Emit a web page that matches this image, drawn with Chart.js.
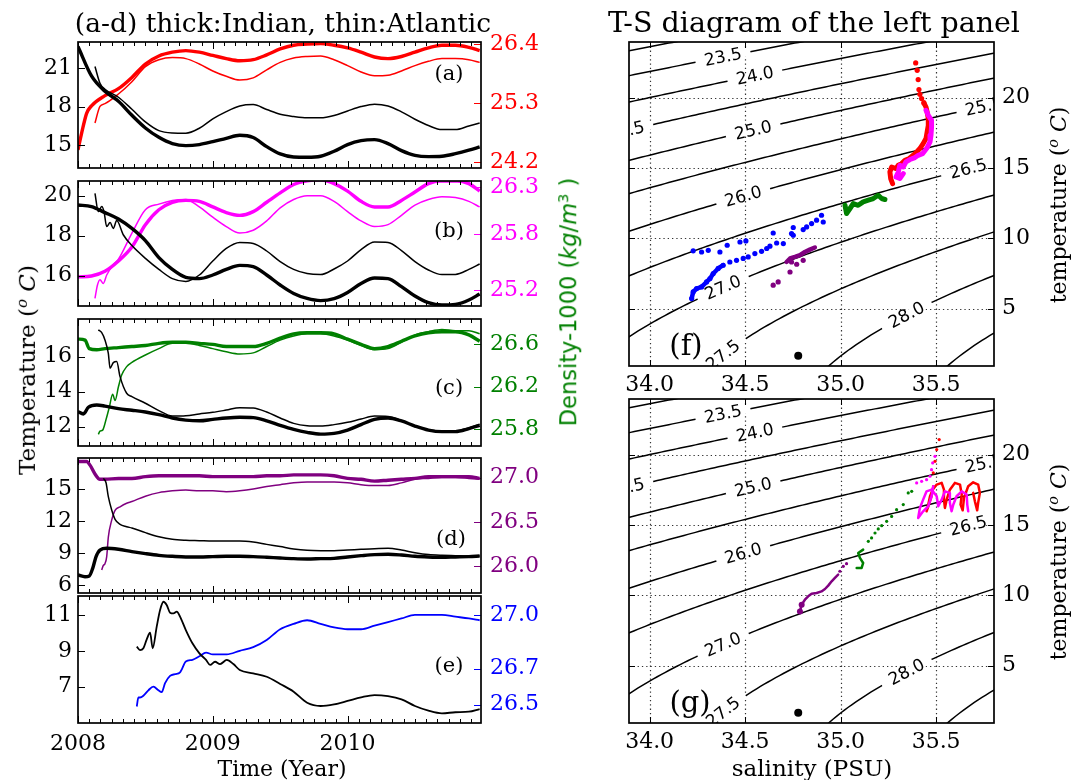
<!DOCTYPE html>
<html><head><meta charset="utf-8">
<script src="https://cdn.jsdelivr.net/npm/chart.js@4.4.1/dist/chart.umd.min.js"></script>
<style>
body{margin:0;background:#fff;}
#page{position:relative;width:1074px;height:780px;overflow:hidden;background:#fff;font-family:'DejaVu Serif',serif;color:#000;}
canvas{position:absolute;}
.t{position:absolute;white-space:nowrap;transform:translate(-50%,-50%);line-height:1;}
.r{transform:translate(-50%,-50%) rotate(-90deg);}
.sup{font-size:0.65em;vertical-align:0.55em;font-style:italic;}
</style></head><body><div id="page">
<canvas id="ca" width="560" height="190" style="left:0;top:10px"></canvas>
<canvas id="cb" width="560" height="189" style="left:0;top:149px"></canvas>
<canvas id="cc" width="560" height="191" style="left:0;top:287px"></canvas>
<canvas id="cd" width="560" height="199" style="left:0;top:426px"></canvas>
<canvas id="ce" width="560" height="209" style="left:0;top:564px"></canvas>
<canvas id="cf" width="474" height="396" style="left:600px;top:10px"></canvas>
<canvas id="cg" width="474" height="396" style="left:600px;top:367px"></canvas>

<div class="t" style="left:283px;top:23px;font-size:26.5px">(a-d) thick:Indian, thin:Atlantic</div>
<div class="t" style="left:814px;top:23px;font-size:28.5px">T-S diagram of the left panel</div>
<div class="t r" style="left:27px;top:370px;font-size:23px">Temperature (<span class="sup">o</span> <i>C</i>)</div>
<div class="t r" style="left:568px;top:302px;font-size:22.5px;color:#008000;font-family:'DejaVu Sans',sans-serif">Density-1000 (<i>kg</i>/<i>m</i><span class="sup" style="font-style:normal">3</span> )</div>
<div class="t" style="left:282px;top:769px;font-size:22px">Time (Year)</div>
<div class="t" style="left:812px;top:768px;font-size:23px">salinity (PSU)</div>
<div class="t r" style="left:1058px;top:205px;font-size:22px">temperature (<span class="sup">o</span> <i>C</i>)</div>
<div class="t r" style="left:1058px;top:562px;font-size:22px">temperature (<span class="sup">o</span> <i>C</i>)</div>
<div class="t" style="left:449px;top:73px;font-size:21px">(a)</div>
<div class="t" style="left:449px;top:230px;font-size:21px">(b)</div>
<div class="t" style="left:449px;top:387px;font-size:21px">(c)</div>
<div class="t" style="left:451px;top:538px;font-size:21px">(d)</div>
<div class="t" style="left:449px;top:665px;font-size:21px">(e)</div>
<div class="t" style="left:686px;top:345px;font-size:29px">(f)</div>
<div class="t" style="left:690px;top:702px;font-size:29px">(g)</div>
</div>
<script>
// ---------------- DATA ----------------
const yearTicks = [2008, 2009, 2010];
const yearsGrid = [2008.0,2008.1,2008.2,2008.3,2008.4,2008.5,2008.6,2008.7,2008.8,2008.9,2009.0,2009.1,2009.2,2009.3,2009.4,2009.5,2009.6,2009.7,2009.8,2009.9,2010.0,2010.1,2010.2,2010.3,2010.4,2010.5,2010.6,2010.7,2010.8,2010.9,2010.98];

// (a)
const aTempTicks = [15, 18, 21];
const aDensTicks = [24.2, 25.3, 26.4];
const aTempThick = [22.70,20.40,19.20,18.42,17.32,16.33,15.60,15.11,14.95,15.03,15.26,15.52,15.76,15.58,14.87,14.30,14.06,14.04,14.12,14.51,15.03,15.34,15.42,15.11,14.56,14.19,14.09,14.12,14.32,14.59,14.85];
const aYearsThin = [2008.126,2008.163,...yearsGrid.slice(2)];
const aTempThin = [21.13,19.83,19.36,18.73,17.79,16.80,16.12,15.94,15.92,16.31,17.04,17.61,18.05,18.16,17.77,17.40,17.22,17.12,17.12,17.30,17.66,18.00,18.19,18.05,17.59,17.01,16.52,16.20,16.20,16.49,16.72];
const aYearsDensThick = [2008.0,2008.027,2008.064,...yearsGrid.slice(1)];
const aDensThick = [24.43,24.74,25.11,25.25,25.44,25.57,25.78,26.03,26.18,26.25,26.28,26.25,26.19,26.13,26.09,26.11,26.20,26.31,26.38,26.40,26.41,26.38,26.33,26.25,26.16,26.13,26.17,26.25,26.33,26.38,26.38,26.34,26.28];
const aDensThin = [24.93,25.24,25.29,25.47,25.70,25.98,26.11,26.15,26.13,26.03,25.90,25.80,25.73,25.77,25.92,26.06,26.14,26.17,26.18,26.11,26.00,25.88,25.81,25.82,25.90,26.00,26.08,26.13,26.13,26.11,26.06];

// (b)
const bTempTicks = [16, 18, 20];
const bDensTicks = [25.2, 25.8, 26.3];
const bTempThick = [19.53,19.45,19.15,18.83,18.36,17.75,16.90,16.31,15.91,15.85,16.03,16.31,16.51,16.45,16.03,15.53,15.11,14.86,14.75,14.85,15.16,15.61,15.88,15.85,15.45,14.98,14.65,14.53,14.56,14.78,15.08];
const bYearsTempThin = [2008.126,2008.151,2008.176,2008.193,2008.213,2008.238,2008.262,2008.287,2008.337,...yearsGrid.slice(4)];
const bTempThin = [20.11,19.20,19.45,19.20,18.45,18.65,18.36,18.75,18.03,17.50,16.86,16.31,15.85,15.71,16.03,16.73,17.36,17.66,17.61,17.23,16.70,16.31,16.10,16.05,16.33,16.73,17.30,17.68,17.66,17.25,16.70,16.28,16.05,16.06,16.31,16.58];
const bDensThick = [25.34,25.35,25.40,25.51,25.66,25.90,26.06,26.14,26.16,26.15,26.09,26.03,26.00,26.04,26.14,26.24,26.33,26.37,26.38,26.34,26.26,26.15,26.09,26.09,26.16,26.25,26.34,26.37,26.37,26.34,26.26];
const bYearsDensThin = [2008.126,2008.144,2008.163,2008.188,2008.213,2008.262,...yearsGrid.slice(3)];
const bDensThin = [25.11,25.25,25.31,25.27,25.36,25.47,25.53,25.81,26.06,26.12,26.16,26.17,26.09,25.98,25.88,25.81,25.84,25.94,26.08,26.17,26.21,26.21,26.15,26.04,25.94,25.88,25.90,26.00,26.11,26.17,26.20,26.19,26.15,26.09];

// (c)
const cTempTicks = [12, 14, 16];
const cDensTicks = [25.8, 26.2, 26.6];
const cYearsTempThick = [2008.0,2008.04,2008.077,2008.139,...yearsGrid.slice(2)];
const cTempThick = [12.86,12.73,13.11,13.24,13.18,13.03,12.94,12.84,12.69,12.50,12.38,12.34,12.42,12.50,12.54,12.52,12.34,12.08,11.85,11.68,11.58,11.62,11.81,12.12,12.42,12.50,12.33,12.04,11.81,11.72,11.72,11.89,12.08];
const cYearsTempThin = [2008.151,2008.176,2008.2,2008.225,2008.238,2008.262,2008.287,2008.312,2008.361,...yearsGrid.slice(4)];
const cTempThin = [17.53,17.37,16.95,16.19,15.34,15.66,15.72,14.86,13.91,13.72,13.34,12.92,12.61,12.63,12.73,12.82,12.95,13.09,13.07,12.84,12.50,12.19,12.06,12.04,12.12,12.25,12.44,12.61,12.59,12.34,12.04,11.83,11.75,11.77,11.93,12.14];
const cYearsDensThick = [2008.0,2008.052,2008.084,2008.139,...yearsGrid.slice(2)];
const cDensThick = [26.65,26.64,26.56,26.55,26.56,26.57,26.58,26.59,26.61,26.62,26.62,26.61,26.60,26.58,26.58,26.58,26.61,26.66,26.70,26.71,26.71,26.70,26.65,26.60,26.56,26.58,26.63,26.68,26.71,26.72,26.72,26.69,26.63];
const cYearsDensThin = [2008.151,2008.163,2008.183,2008.208,2008.233,2008.257,2008.275,2008.3,2008.324,2008.361,...yearsGrid.slice(4)];
const cDensThin = [25.75,25.78,25.79,25.89,26.01,26.13,26.07,26.20,26.31,26.39,26.43,26.50,26.56,26.61,26.61,26.59,26.56,26.53,26.51,26.52,26.58,26.64,26.68,26.70,26.70,26.68,26.64,26.59,26.55,26.56,26.62,26.69,26.72,26.74,26.73,26.73,26.70];

// (d)
const dTempTicks = [6, 9, 12, 15];
const dDensTicks = [26.0, 26.5, 27.0];
const dYearsTempThick = [2008.0,2008.052,2008.084,2008.109,2008.134,2008.163,2008.213,...yearsGrid.slice(3)];
const dTempThick = [6.94,6.78,6.85,7.56,8.66,9.28,9.44,9.35,9.13,8.94,8.78,8.69,8.63,8.63,8.66,8.69,8.69,8.66,8.60,8.53,8.47,8.44,8.47,8.50,8.63,8.75,8.85,8.88,8.81,8.69,8.63,8.60,8.63,8.66,8.72];
const dYearsTempThin = [2008.188,2008.208,2008.225,2008.25,2008.275,2008.312,2008.361,...yearsGrid.slice(4)];
const dTempThin = [16.0,15.59,14.28,13.03,12.16,11.69,11.47,11.34,10.91,10.53,10.28,10.19,10.16,10.13,10.13,10.13,10.03,9.81,9.60,9.38,9.25,9.22,9.22,9.28,9.35,9.41,9.44,9.28,9.03,8.85,8.78,8.75,8.72,8.72];
const dYearsDensThick = [2008.0,2008.064,2008.089,2008.126,2008.163,2008.2,...yearsGrid.slice(3)];
const dDensThick = [27.18,27.18,27.14,27.04,26.98,26.98,26.99,26.99,27.01,27.02,27.02,27.02,27.02,27.01,27.01,27.01,27.01,27.02,27.02,27.03,27.03,27.03,27.02,26.99,26.98,26.96,26.97,26.98,26.99,27.01,27.01,27.01,27.01,26.99];
const dYearsDensThin = [2008.176,2008.188,2008.2,2008.213,2008.225,2008.25,2008.275,2008.312,2008.361,...yearsGrid.slice(4)];
const dDensThin = [25.96,26.01,26.03,26.11,26.33,26.52,26.63,26.67,26.71,26.73,26.79,26.83,26.85,26.86,26.85,26.85,26.84,26.85,26.87,26.90,26.92,26.94,26.95,26.95,26.95,26.94,26.92,26.91,26.91,26.94,26.98,26.99,27.00,27.00,26.99,26.98];

// (e)
const eTempTicks = [7, 9, 11];
const eDensTicks = [26.5, 26.7, 27.0];
const eYearsTemp = [2008.436,2008.46,2008.485,2008.51,2008.535,2008.554,2008.584,2008.609,2008.634,2008.658,2008.683,2008.708,2008.733,2008.757,2008.8,2008.849,2008.901,2008.95,2008.98,2009.017,2009.054,2009.104,2009.153,...yearsGrid.slice(12)];
const eTemp = [9.23,9.04,9.14,9.64,10.01,9.14,10.35,11.28,11.74,11.56,11.13,11.09,11.19,10.91,10.16,9.42,8.86,8.49,8.21,8.39,8.26,8.49,8.26,7.93,7.74,7.55,7.15,6.72,6.10,5.92,6.01,6.20,6.40,6.53,6.47,6.29,5.92,5.66,5.51,5.57,5.60,5.75];
const eYearsDens = [2008.436,2008.448,2008.46,2008.485,2008.522,2008.559,2008.597,2008.621,2008.646,2008.683,2008.72,2008.757,2008.8,2008.849,2008.901,2008.95,2009.0,2009.054,2009.104,...yearsGrid.slice(12)];
const eDens = [26.49,26.54,26.54,26.55,26.58,26.60,26.58,26.57,26.62,26.66,26.67,26.68,26.74,26.75,26.77,26.79,26.78,26.78,26.78,26.80,26.82,26.86,26.92,26.95,26.97,26.95,26.93,26.92,26.92,26.94,26.96,26.98,27.00,27.00,27.00,26.99,26.98,26.97];

// T-S diagram ticks and contour levels
const salTicks = [34.0, 34.5, 35.0, 35.5];
const tsTempTicks = [5, 10, 15, 20];
const sigmaLevels = [23.0,23.5,24.0,24.5,25.0,25.5,26.0,26.5,27.0,27.5,28.0,28.5];
const sigmaLabels = [23.5,24.0,24.5,25.0,25.5,26.0,26.5,27.0,27.5,28.0];

// (f) Indian (thick) T-S points
const fRedS = [35.393,35.401,35.406,35.410,35.415,35.424,35.436,35.447,35.453,35.459,35.459,35.453,35.447,35.432,35.415,35.398,35.380,35.359,35.337,35.319,35.302,35.290,35.267,35.258,35.262,35.272];
const fRedT = [22.46,21.94,21.28,20.57,20.23,19.93,19.62,19.33,18.98,18.51,18.03,17.56,17.09,16.73,16.38,16.14,15.90,15.67,15.55,15.31,15.19,14.96,15.07,14.72,14.25,13.89];
const fMagS = [35.447,35.459,35.476,35.476,35.473,35.468,35.450,35.429,35.406,35.389,35.363,35.342,35.328,35.310,35.302,35.290,35.310,35.328];
const fMagT = [19.10,18.74,18.39,17.91,17.32,16.85,16.38,16.02,15.90,15.74,15.60,15.43,15.07,15.19,14.72,14.36,14.25,14.60];
const fGreenS = [35.023,35.031,35.049,35.066,35.092,35.118,35.145,35.171,35.197,35.215,35.232];
const fGreenT = [12.35,11.76,12.12,12.47,12.35,12.59,12.71,12.83,13.06,12.83,12.76];
const fBlueS = [34.220,34.228,34.246,34.272,34.298,34.316,34.333,34.359,34.385,34.420,34.455,34.490,34.516,34.551,34.586,34.613,34.630,34.665,34.700,34.743,34.752,34.804,34.822,34.848,34.874,34.900,34.909];
const fBlueT = [5.72,6.19,6.43,6.55,6.90,7.14,7.50,7.86,8.09,8.32,8.44,8.57,8.68,8.92,9.08,9.28,9.44,9.67,9.63,10.34,10.77,10.62,10.81,11.05,11.29,11.64,11.16];
const fBlueUpperS = [34.228,34.272,34.307,34.368,34.406,34.473,34.504,34.647,34.752];
const fBlueUpperT = [9.11,9.03,9.15,9.03,9.51,9.74,9.82,10.38,10.22];
const fPurpleLineS = [34.717,34.735,34.761,34.787,34.813,34.839,34.865];
const fPurpleLineT = [8.32,8.57,8.68,8.80,9.03,9.20,9.35];
const fPurpleDotS = [34.647,34.673,34.735,34.743,34.770,34.804];
const fPurpleDotT = [6.67,6.90,7.61,8.32,8.16,8.44];

// (g) Atlantic (thin) T-S points
const gRedDotS = [35.516,35.503,35.494,35.485];
const gRedDotT = [21.07,20.36,19.52,18.70];
const gRedLineS = [35.485,35.476,35.459,35.450,35.459,35.468,35.482,35.503,35.529,35.541,35.541,35.546,35.555,35.572,35.598,35.625,35.634,35.628,35.639,35.646,35.668,35.694,35.720,35.729,35.720,35.715,35.703,35.694];
const gRedLineT = [17.75,17.04,16.33,15.97,16.45,17.04,17.51,17.87,17.99,17.51,16.80,16.21,16.80,17.51,17.99,17.87,17.16,16.45,16.04,16.92,17.75,18.03,17.87,17.28,16.57,16.04,16.68,17.28];
const gMagDotS = [35.494,35.482,35.476,35.468,35.450,35.424,35.398];
const gMagDotT = [19.88,19.41,18.93,18.46,18.22,18.10,17.99];
const gMagLineS = [35.485,35.476,35.459,35.432,35.406,35.415,35.432,35.450,35.476,35.503,35.511,35.529,35.546,35.572,35.572,35.581,35.590,35.607,35.634,35.660,35.663,35.668];
const gMagLineT = [17.75,17.04,16.33,15.97,15.50,16.21,16.80,17.39,17.51,17.04,16.33,16.80,17.39,17.28,16.57,15.97,16.45,17.04,17.39,17.16,16.45,15.97];
const gGreenLineS = [35.084,35.110,35.118,35.101,35.092,35.118];
const gGreenLineT = [11.95,11.95,12.30,12.66,13.01,13.25];
const gGreenDotS = [35.145,35.162,35.180,35.197,35.215,35.241,35.267,35.293,35.328,35.354,35.372];
const gGreenDotT = [13.84,14.08,14.43,14.72,14.95,15.26,15.61,16.09,16.45,17.28,17.39];
const gPurpleLineS = [34.787,34.796,34.813,34.830,34.848,34.874,34.900,34.918,34.935,34.953,34.970,34.987];
const gPurpleLineT = [8.86,9.34,9.69,9.93,10.12,10.17,10.28,10.45,10.69,11.00,11.24,11.47];
const gPurpleDotS = [34.996,35.014,35.031];
const gPurpleDotT = [11.71,12.06,12.25];
const deepS = [34.778];
const deepT = [1.65];

// ---------------- LAYOUT / STYLE ----------------
const SERIF = "'DejaVu Serif', serif";
const TICK_PX = 22;
const RED='#ff0000', MAG='#ff00ff', GRN='#008000', PUR='#800080', BLU='#0000ff', BLK='#000000';
const X_MIN = 2008.0, X_MAX = 2010.99;
const TS_X = [33.892, 35.803], TS_Y = [0.93, 23.95];
const PAD_TOP = 32;
const labelSalPos = [34.384, 34.551, 33.876, 34.542, 35.75, 34.49, 35.668, 34.384, 34.384, 35.345];

function pts(xs, ys){ return xs.map((x,i)=>({x:x, y:ys[i]})); }

function leftFrame(p){
  return {
    id:'leftFrame',
    afterDraw(chart){
      const {ctx, chartArea:a, scales} = chart;
      ctx.save();
      ctx.lineWidth = 1;
      ctx.strokeStyle = '#000';
      ctx.beginPath();
      for (let m=0; m<=36; m++){
        const t = 2008 + m/12;
        if (t > X_MAX + 1e-6) break;
        const px = Math.round(scales.x.getPixelForValue(t)) + 0.5;
        const L = (m % 12 === 0) ? 7 : 4;
        ctx.moveTo(px, a.bottom); ctx.lineTo(px, a.bottom - L);
        ctx.moveTo(px, a.top); ctx.lineTo(px, a.top + L);
      }
      p.tTicks.forEach(v=>{ const py = Math.round(scales.yT.getPixelForValue(v))+0.5; ctx.moveTo(a.left, py); ctx.lineTo(a.left+7, py); });
      ctx.stroke();
      ctx.strokeStyle = p.dColor;
      ctx.beginPath();
      p.dTicks.forEach(v=>{ const py = Math.round(scales.yD.getPixelForValue(v))+0.5; ctx.moveTo(a.right, py); ctx.lineTo(a.right-7, py); });
      ctx.stroke();
      ctx.strokeStyle = '#000';
      ctx.lineWidth = 1.7;
      ctx.strokeRect(a.left, a.top, a.right-a.left, a.bottom-a.top);
      ctx.restore();
    }
  };
}

function makeLeft(id, p){
  const datasets = p.series.map(s=>({
    data: pts(s.t, s.v), yAxisID: s.axis, borderColor: s.color, borderWidth: s.w,
    pointRadius: 0, fill: false, cubicInterpolationMode: 'monotone', borderJoinStyle:'round'
  }));
  new Chart(document.getElementById(id), {
    type: 'line',
    data: { datasets },
    options: {
      responsive: false, animation: false, devicePixelRatio: 1, events: [],
      layout: { padding: { top: PAD_TOP, left: 0, right: 0, bottom: 0 }, autoPadding: false },
      plugins: { legend: { display: false }, tooltip: { enabled: false } },
      scales: {
        x: {
          type: 'linear', min: X_MIN, max: X_MAX,
          afterBuildTicks: s => { s.ticks = yearTicks.map(v=>({value:v})); },
          ticks: { display: p.showX, font: { family: SERIF, size: TICK_PX }, color: '#000', padding: 8, maxRotation: 0, autoSkip: false, callback: v => String(v) },
          grid: { display: false, drawTicks: false }, border: { display: false },
          afterFit: s => { s.height = p.showX ? 50 : 32; }
        },
        yT: {
          position: 'left', min: p.tRange[0], max: p.tRange[1],
          afterBuildTicks: s => { s.ticks = p.tTicks.map(v=>({value:v})); },
          ticks: { font: { family: SERIF, size: TICK_PX }, color: '#000', padding: 6, autoSkip: false, callback: v => String(v) },
          grid: { display: false, drawTicks: false }, border: { display: false },
          afterFit: s => { s.width = 78; }
        },
        yD: {
          position: 'right', min: p.dRange[0], max: p.dRange[1],
          afterBuildTicks: s => { s.ticks = p.dTicks.map(v=>({value:v})); },
          ticks: { font: { family: SERIF, size: TICK_PX }, color: p.dColor, padding: 9, autoSkip: false, callback: v => Number(v).toFixed(1) },
          grid: { display: false, drawTicks: false }, border: { display: false },
          afterFit: s => { s.width = 79; }
        }
      }
    },
    plugins: [leftFrame(p)]
  });
}

makeLeft('ca', { tRange:[13.2, 23.05], dRange:[24.09, 26.44], tTicks:aTempTicks, dTicks:aDensTicks, dColor:RED, showX:false,
  series:[
    {t:yearsGrid, v:aTempThick, axis:'yT', color:BLK, w:3.4},
    {t:aYearsThin, v:aTempThin, axis:'yT', color:BLK, w:1.5},
    {t:aYearsDensThick, v:aDensThick, axis:'yD', color:RED, w:3.4},
    {t:aYearsThin, v:aDensThin, axis:'yD', color:RED, w:1.5}
  ]});
makeLeft('cb', { tRange:[14.48, 20.73], dRange:[25.028, 26.368], tTicks:bTempTicks, dTicks:bDensTicks, dColor:MAG, showX:false,
  series:[
    {t:yearsGrid, v:bTempThick, axis:'yT', color:BLK, w:3.4},
    {t:bYearsTempThin, v:bTempThin, axis:'yT', color:BLK, w:1.5},
    {t:yearsGrid, v:bDensThick, axis:'yD', color:MAG, w:3.4},
    {t:bYearsDensThin, v:bDensThin, axis:'yD', color:MAG, w:1.5}
  ]});
makeLeft('cc', { tRange:[10.9, 18.15], dRange:[25.64, 26.84], tTicks:cTempTicks, dTicks:cDensTicks, dColor:GRN, showX:false,
  series:[
    {t:cYearsTempThick, v:cTempThick, axis:'yT', color:BLK, w:3.4},
    {t:cYearsTempThin, v:cTempThin, axis:'yT', color:BLK, w:1.5},
    {t:cYearsDensThick, v:cDensThick, axis:'yD', color:GRN, w:3.4},
    {t:cYearsDensThin, v:cDensThin, axis:'yD', color:GRN, w:1.5}
  ]});
makeLeft('cd', { tRange:[5.25, 17.91], dRange:[25.70, 27.22], tTicks:dTempTicks, dTicks:dDensTicks, dColor:PUR, showX:false,
  series:[
    {t:dYearsTempThick, v:dTempThick, axis:'yT', color:BLK, w:3.4},
    {t:dYearsTempThin, v:dTempThin, axis:'yT', color:BLK, w:1.5},
    {t:dYearsDensThick, v:dDensThick, axis:'yD', color:PUR, w:3.4},
    {t:dYearsDensThin, v:dDensThin, axis:'yD', color:PUR, w:1.5}
  ]});
makeLeft('ce', { tRange:[4.97, 12.06], dRange:[26.398, 27.105], tTicks:eTempTicks, dTicks:eDensTicks, dColor:BLU, showX:true,
  series:[
    {t:eYearsTemp, v:eTemp, axis:'yT', color:BLK, w:1.8},
    {t:eYearsDens, v:eDens, axis:'yD', color:BLU, w:1.8}
  ]});

// ---------- T-S diagrams ----------
// UNESCO 1981 equation of state at surface pressure -> sigma-t
function sigmaT(S, T){
  const T2=T*T, T3=T2*T, T4=T3*T, T5=T4*T;
  const rw = 999.842594 + 6.793952e-2*T - 9.095290e-3*T2 + 1.001685e-4*T3 - 1.120083e-6*T4 + 6.536332e-9*T5;
  const A = 8.24493e-1 - 4.0899e-3*T + 7.6438e-5*T2 - 8.2467e-7*T3 + 5.3875e-9*T4;
  const B = -5.72466e-3 + 1.0227e-4*T - 1.6546e-6*T2;
  const C = 4.8314e-4;
  return rw + A*S + B*Math.pow(S,1.5) + C*S*S - 1000;
}
function tempAt(S, sig){
  let lo=-2, hi=40;
  for (let k=0;k<60;k++){ const m=(lo+hi)/2; if (sigmaT(S,m) > sig) lo=m; else hi=m; }
  return (lo+hi)/2;
}
function contourSets(){
  return sigmaLevels.map(lev=>{
    const d=[];
    for (let S=33.80; S<=35.92; S+=0.02) d.push({x:S, y:tempAt(S,lev)});
    return { data:d, showLine:true, borderColor:'#000', borderWidth:1.5, pointRadius:0, order:10, tension:0 };
  });
}
function tsLine(S,T,color,w,order){ return { data:pts(S,T), showLine:true, borderColor:color, backgroundColor:color, borderWidth:w, pointRadius:0, order:order, borderJoinStyle:'round', borderCapStyle:'round' }; }
function tsDots(S,T,color,r,order){ return { data:pts(S,T), showLine:false, pointRadius:r, pointBackgroundColor:color, pointBorderColor:color, pointBorderWidth:0, backgroundColor:color, borderColor:color, order:order }; }

function tsPlugin(nScatter){
  return {
    id:'tsFrame',
    beforeDatasetsDraw(chart){
      const {ctx, chartArea:a, scales:{x,y}} = chart;
      ctx.save();
      ctx.strokeStyle='#333'; ctx.lineWidth=1.2; ctx.setLineDash([1.3,3]);
      ctx.beginPath();
      salTicks.forEach(v=>{ const px=Math.round(x.getPixelForValue(v))+0.5; ctx.moveTo(px,a.top); ctx.lineTo(px,a.bottom); });
      tsTempTicks.forEach(v=>{ const py=Math.round(y.getPixelForValue(v))+0.5; ctx.moveTo(a.left,py); ctx.lineTo(a.right,py); });
      ctx.stroke();
      ctx.restore();
    },
    afterDatasetDraw(chart, args){
      if (args.index !== nScatter) return;
      const {ctx, chartArea:a, scales:{x,y}} = chart;
      ctx.save();
      ctx.beginPath(); ctx.rect(a.left,a.top,a.right-a.left,a.bottom-a.top); ctx.clip();
      ctx.font = "17px 'DejaVu Sans', sans-serif";
      ctx.textAlign='center'; ctx.textBaseline='middle';
      sigmaLabels.forEach((lev,i)=>{
        const S = labelSalPos[i];
        const px = x.getPixelForValue(S), py = y.getPixelForValue(tempAt(S,lev));
        const x1 = x.getPixelForValue(S-0.03), y1 = y.getPixelForValue(tempAt(S-0.03,lev));
        const x2 = x.getPixelForValue(S+0.03), y2 = y.getPixelForValue(tempAt(S+0.03,lev));
        const ang = Math.atan2(y2-y1, x2-x1);
        const txt = lev.toFixed(1);
        const w = ctx.measureText(txt).width;
        ctx.save(); ctx.translate(px,py); ctx.rotate(ang);
        ctx.fillStyle='#fff'; ctx.fillRect(-w/2-9,-4,w+18,8);
        ctx.fillStyle='#000'; ctx.fillText(txt,0,1);
        ctx.restore();
      });
      ctx.restore();
    },
    afterDraw(chart){
      const {ctx, chartArea:a, scales:{x,y}} = chart;
      ctx.save();
      ctx.strokeStyle='#000'; ctx.lineWidth=1;
      ctx.beginPath();
      salTicks.forEach(v=>{ const px=Math.round(x.getPixelForValue(v))+0.5; ctx.moveTo(px,a.bottom); ctx.lineTo(px,a.bottom-6); ctx.moveTo(px,a.top); ctx.lineTo(px,a.top+6); });
      tsTempTicks.forEach(v=>{ const py=Math.round(y.getPixelForValue(v))+0.5; ctx.moveTo(a.left,py); ctx.lineTo(a.left+6,py); ctx.moveTo(a.right,py); ctx.lineTo(a.right-6,py); });
      ctx.stroke();
      ctx.lineWidth=1.7;
      ctx.strokeRect(a.left,a.top,a.right-a.left,a.bottom-a.top);
      ctx.restore();
    }
  };
}

function makeTS(id, scatter){
  const datasets = scatter.concat(contourSets());
  new Chart(document.getElementById(id), {
    type:'scatter',
    data:{ datasets },
    options:{
      responsive:false, animation:false, devicePixelRatio:1, events:[],
      layout:{ padding:{ top:PAD_TOP, left:29, right:0, bottom:0 }, autoPadding:false },
      plugins:{ legend:{display:false}, tooltip:{enabled:false} },
      scales:{
        x:{ type:'linear', min:TS_X[0], max:TS_X[1],
            afterBuildTicks: s=>{ s.ticks = salTicks.map(v=>({value:v})); },
            ticks:{ font:{family:SERIF,size:TICK_PX}, color:'#000', padding:6, maxRotation:0, autoSkip:false, callback:v=>Number(v).toFixed(1) },
            grid:{ display:false, drawTicks:false }, border:{display:false},
            afterFit: s=>{ s.height = 40; } },
        y:{ type:'linear', position:'right', min:TS_Y[0], max:TS_Y[1],
            afterBuildTicks: s=>{ s.ticks = tsTempTicks.map(v=>({value:v})); },
            ticks:{ font:{family:SERIF,size:TICK_PX}, color:'#000', padding:8, autoSkip:false, callback:v=>String(v) },
            grid:{ display:false, drawTicks:false }, border:{display:false},
            afterFit: s=>{ s.width = 80; } }
      }
    },
    plugins:[tsPlugin(scatter.length)]
  });
}

makeTS('cf', [
  tsDots(deepS, deepT, BLK, 4, 0),
  tsDots(fBlueS, fBlueT, BLU, 2.6, 1),
  tsLine(fBlueS.slice(0,9), fBlueT.slice(0,9), BLU, 4.5, 1),
  tsDots(fBlueUpperS, fBlueUpperT, BLU, 2.6, 1),
  tsLine(fPurpleLineS, fPurpleLineT, PUR, 4.5, 2),
  tsDots(fPurpleDotS, fPurpleDotT, PUR, 2.6, 2),
  tsLine(fGreenS, fGreenT, GRN, 5, 3),
  tsLine(fMagS, fMagT, MAG, 5, 4),
  tsDots(fRedS.slice(0,7), fRedT.slice(0,7), RED, 2.6, 5),
  tsLine(fRedS.slice(6), fRedT.slice(6), RED, 5, 5)
]);
makeTS('cg', [
  tsDots(deepS, deepT, BLK, 4, 0),
  tsLine(gPurpleLineS, gPurpleLineT, PUR, 2.5, 2),
  tsDots(gPurpleDotS, gPurpleDotT, PUR, 1.6, 2),
  tsDots(gPurpleLineS.slice(0,2), gPurpleLineT.slice(0,2), PUR, 3, 2),
  tsLine(gGreenLineS, gGreenLineT, GRN, 2.5, 3),
  tsDots(gGreenDotS, gGreenDotT, GRN, 1.6, 3),
  tsLine(gMagLineS, gMagLineT, MAG, 2.5, 4),
  tsDots(gMagDotS, gMagDotT, MAG, 1.6, 4),
  tsLine(gRedLineS, gRedLineT, RED, 2.5, 5),
  tsDots(gRedDotS, gRedDotT, RED, 1.6, 5)
]);
</script>
</body></html>
